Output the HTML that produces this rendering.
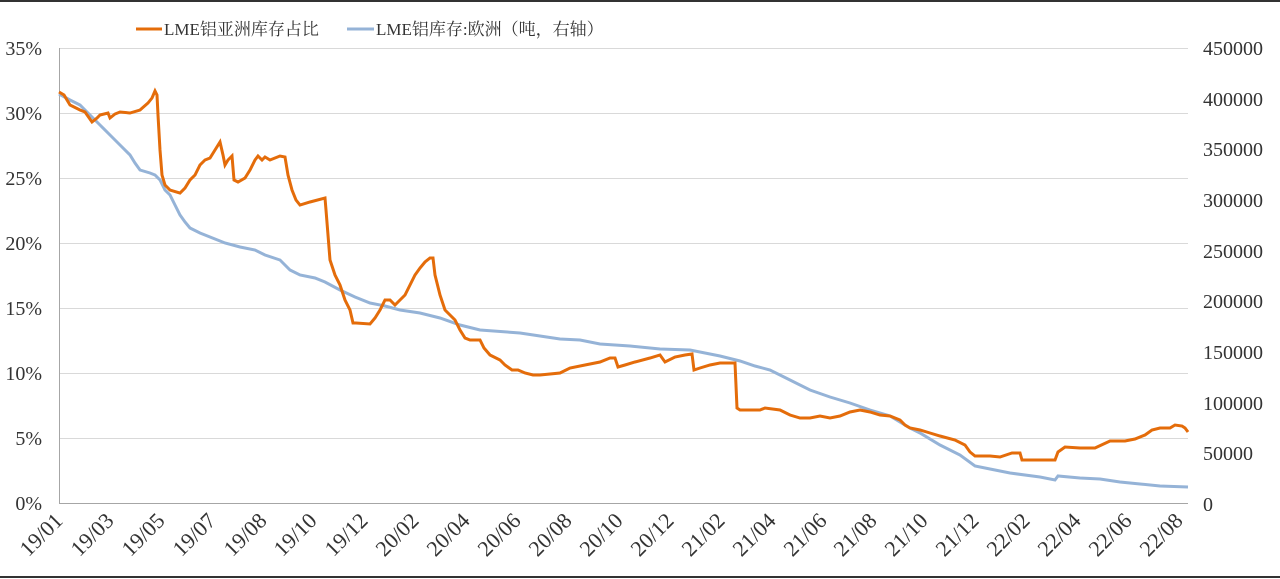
<!DOCTYPE html>
<html><head><meta charset="utf-8"><style>
body{margin:0;background:#fff;}
svg{display:block;font-family:"Liberation Serif","Noto Serif CJK SC",serif;}
</style></head><body>
<svg width="1280" height="579" viewBox="0 0 1280 579">
<line x1="0" y1="1" x2="1280" y2="1" stroke="#333" stroke-width="2"/>
<line x1="0" y1="577" x2="1280" y2="577" stroke="#333" stroke-width="2"/>
<g stroke="#d9d9d9" stroke-width="1">
<line x1="59" y1="48.5" x2="1188" y2="48.5"/>
<line x1="59" y1="113.5" x2="1188" y2="113.5"/>
<line x1="59" y1="178.5" x2="1188" y2="178.5"/>
<line x1="59" y1="243.5" x2="1188" y2="243.5"/>
<line x1="59" y1="308.5" x2="1188" y2="308.5"/>
<line x1="59" y1="373.5" x2="1188" y2="373.5"/>
<line x1="59" y1="438.5" x2="1188" y2="438.5"/>
</g>
<line x1="59.5" y1="48" x2="59.5" y2="504" stroke="#a6a6a6"/>
<line x1="59" y1="503.5" x2="1188" y2="503.5" stroke="#a6a6a6"/>
<g font-size="20" fill="#333" text-anchor="end">
<text x="42" y="55">35%</text><text x="42" y="120">30%</text><text x="42" y="185">25%</text><text x="42" y="250">20%</text><text x="42" y="315">15%</text><text x="42" y="380">10%</text><text x="42" y="445">5%</text><text x="42" y="510">0%</text>
</g>
<g font-size="20" fill="#333" text-anchor="start">
<text x="1203" y="55">450000</text><text x="1203" y="106">400000</text><text x="1203" y="156">350000</text><text x="1203" y="207">300000</text><text x="1203" y="258">250000</text><text x="1203" y="308">200000</text><text x="1203" y="359">150000</text><text x="1203" y="410">100000</text><text x="1203" y="460">50000</text><text x="1203" y="511">0</text>
</g>
<g font-size="22" fill="#333" text-anchor="end">
<text transform="translate(64,522) rotate(-45)">19/01</text>
<text transform="translate(115,522) rotate(-45)">19/03</text>
<text transform="translate(166,522) rotate(-45)">19/05</text>
<text transform="translate(217,522) rotate(-45)">19/07</text>
<text transform="translate(268,522) rotate(-45)">19/08</text>
<text transform="translate(318,522) rotate(-45)">19/10</text>
<text transform="translate(369,522) rotate(-45)">19/12</text>
<text transform="translate(420,522) rotate(-45)">20/02</text>
<text transform="translate(471,522) rotate(-45)">20/04</text>
<text transform="translate(522,522) rotate(-45)">20/06</text>
<text transform="translate(573,522) rotate(-45)">20/08</text>
<text transform="translate(624,522) rotate(-45)">20/10</text>
<text transform="translate(675,522) rotate(-45)">20/12</text>
<text transform="translate(726,522) rotate(-45)">21/02</text>
<text transform="translate(777,522) rotate(-45)">21/04</text>
<text transform="translate(828,522) rotate(-45)">21/06</text>
<text transform="translate(878,522) rotate(-45)">21/08</text>
<text transform="translate(929,522) rotate(-45)">21/10</text>
<text transform="translate(980,522) rotate(-45)">21/12</text>
<text transform="translate(1031,522) rotate(-45)">22/02</text>
<text transform="translate(1082,522) rotate(-45)">22/04</text>
<text transform="translate(1133,522) rotate(-45)">22/06</text>
<text transform="translate(1184,522) rotate(-45)">22/08</text>
</g>
<polyline fill="none" stroke="#95b3d7" stroke-width="3" points="59,94 70,100 80,105 90,115 100,125 110,135 120,145 130,155 135,163 140,170 150,173 155,175 160,180 165,190 170,195 175,205 180,215 185,222 190,228 200,233 210,237 225,243 240,247 255,250 265,255 280,260 290,270 300,275 315,278 325,282 340,290 355,297 370,303 385,306 400,310 420,313 440,318 460,325 480,330 520,333 540,336 560,339 580,340 600,344 630,346 660,349 690,350 720,356 740,361 755,366 770,370 790,380 810,390 830,397 850,403 870,410 890,416 910,428 920,433 940,445 960,455 975,466 990,469 1010,473 1040,477 1055,480 1058,476 1080,478 1100,479 1120,482 1140,484 1160,486 1188,487"/>
<polyline fill="none" stroke="#e46c0a" stroke-width="3" points="59,92 64,95 70,105 80,110 85,112 92,122 97,118 100,115 108,113 110,118 115,114 120,112 130,113 140,110 148,103 152,98 155,91 157,95 158,115 160,150 162,175 165,185 170,190 180,193 185,188 190,180 195,175 200,165 205,160 210,158 215,150 220,142 223,155 225,165 228,160 232,156 234,180 238,182 245,178 250,170 255,160 258,156 262,160 265,157 270,160 280,156 285,157 288,175 292,190 296,200 300,205 310,202 325,198 326,210 328,235 330,260 335,275 340,285 345,300 350,310 353,323 356,323 370,324 375,318 380,310 385,300 390,300 395,305 400,300 405,295 410,285 415,275 420,268 425,262 430,258 433,258 435,275 440,295 445,310 450,315 455,320 460,330 465,338 470,340 480,340 484,348 490,355 500,360 505,365 512,370 518,370 525,373 533,375 540,375 560,373 570,368 585,365 600,362 610,358 615,358 618,367 625,365 635,362 650,358 660,355 665,362 675,357 685,355 692,354 694,370 700,368 710,365 720,363 735,363 737,408 740,410 760,410 765,408 780,410 790,415 800,418 810,418 820,416 830,418 840,416 850,412 860,410 870,412 880,415 890,416 900,420 905,425 910,428 920,430 930,433 940,436 955,440 965,445 970,452 975,456 990,456 1000,457 1012,453 1020,453 1022,460 1040,460 1055,460 1058,452 1065,447 1080,448 1095,448 1110,441 1125,441 1135,439 1145,435 1152,430 1160,428 1170,428 1175,425 1182,426 1185,428 1188,432"/>
<line x1="136" y1="29" x2="162" y2="29" stroke="#e46c0a" stroke-width="3"/>
<text x="164" y="35" font-size="17" fill="#333">LME铝亚洲库存占比</text>
<line x1="347" y1="29" x2="374" y2="29" stroke="#95b3d7" stroke-width="3"/>
<text x="376" y="35" font-size="17" fill="#333">LME铝库存:欧洲（吨，右轴）</text>
</svg>
</body></html>
